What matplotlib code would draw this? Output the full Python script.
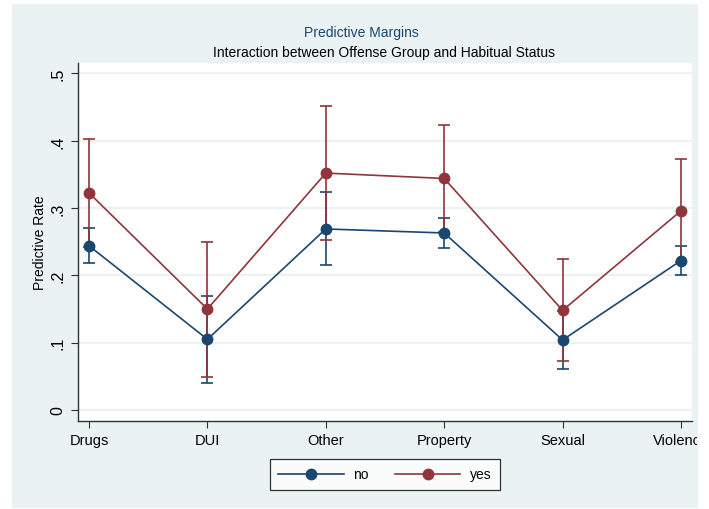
import matplotlib
matplotlib.use("Agg")
import matplotlib.pyplot as plt
from matplotlib.patches import Rectangle
from matplotlib.transforms import Bbox

plt.rcParams['font.family'] = ['Liberation Sans', 'DejaVu Sans']

categories = ["Drugs", "DUI", "Other", "Property", "Sexual", "Violence"]
no_rate = [0.244, 0.105, 0.269, 0.263, 0.104, 0.222]
no_lo = [0.218, 0.040, 0.215, 0.241, 0.0615, 0.2004]
no_hi = [0.271, 0.170, 0.324, 0.285, 0.147, 0.243]
yes_rate = [0.3225, 0.150, 0.352, 0.344, 0.148, 0.296]
yes_lo = [0.242, 0.0496, 0.252, 0.264, 0.0724, 0.220]
yes_hi = [0.403, 0.2495, 0.452, 0.4236, 0.224, 0.3725]
yticks = [0, 0.1, 0.2, 0.3, 0.4, 0.5]
yticklabels = ["0", ".1", ".2", ".3", ".4", ".5"]

NAVY = "#1a476f"
MAROON = "#90353b"
BG = "#eaf2f3"

W, H = 709, 510
fig = plt.figure(figsize=(W / 100, H / 100), dpi=100)
fig.patch.set_facecolor("white")
bgrect = Rectangle((12 / W, 1 / H), (698 - 12) / W, (505 - 1) / H,
                   transform=fig.transFigure, facecolor=BG,
                   edgecolor="none", zorder=-10)
fig.patches.append(bgrect)

left, right, top, bottom = 78, 692, 63.5, 421.7
ax = fig.add_axes([left / W, (H - bottom) / H, (right - left) / W, (bottom - top) / H])
ax.set_zorder(1)
ax.set_facecolor("white")

x = list(range(len(categories)))

def draw(vals, lo, hi, color):
    err = [[v - l for v, l in zip(vals, lo)], [h - v for v, h in zip(vals, hi)]]
    ax.errorbar(x, vals, yerr=err, fmt="none", ecolor=color, elinewidth=1.2,
                capsize=4, capthick=1.2, zorder=3)

draw(no_rate, no_lo, no_hi, NAVY)
draw(yes_rate, yes_lo, yes_hi, MAROON)
ax.plot(x, no_rate, color=NAVY, lw=1.2, marker="o", ms=7.5, label="no", zorder=4)
ax.plot(x, yes_rate, color=MAROON, lw=1.2, marker="o", ms=7.5, label="yes", zorder=4)

ax.set_xlim(-0.093, 5.093)
ax.set_ylim(-0.0159, 0.5163)
ax.set_yticks(yticks)
ax.set_yticklabels(yticklabels, rotation=90, va="center", fontsize=11.5)
ax.set_xticks(x)
ax.set_xticklabels(categories, fontsize=10.5)
ax.grid(axis="y", color=BG, lw=1.5, zorder=0)
ax.set_axisbelow(True)
for s in ["top", "right"]:
    ax.spines[s].set_visible(False)
for s in ["left", "bottom"]:
    ax.spines[s].set_color("#333333")
    ax.spines[s].set_linewidth(1.0)
ax.tick_params(axis="both", direction="out", length=5, width=0.8, color="#333333")
ax.tick_params(axis="x", pad=4)
ax.tick_params(axis="y", pad=4)

clip = Bbox.from_extents(0, 0, 697, H)
for lab in ax.get_xticklabels():
    lab.set_clip_box(clip)
    lab.set_clip_on(True)

fig.text(40 / W, (H - 242.6) / H, "Predictive Rate", rotation=90,
         ha="center", va="center", fontsize=10)
fig.text(361.5 / W, (H - 33.3) / H, "Predictive Margins", ha="center",
         va="center", fontsize=10, color=NAVY)
fig.text(384 / W, (H - 53.3) / H, "Interaction between Offense Group and Habitual Status",
         ha="center", va="center", fontsize=10, color="black")

leg = fig.legend(loc="center", bbox_to_anchor=(385 / W, (H - 475.5) / H), ncol=2,
                 fontsize=10, frameon=True, fancybox=False, handlelength=4.7,
                 handletextpad=0.7, columnspacing=1.9, borderpad=0.6)
leg.get_frame().set_edgecolor("black")
leg.get_frame().set_linewidth(0.9)
leg.get_frame().set_facecolor("white")

fig.savefig("out.png", dpi=100)
